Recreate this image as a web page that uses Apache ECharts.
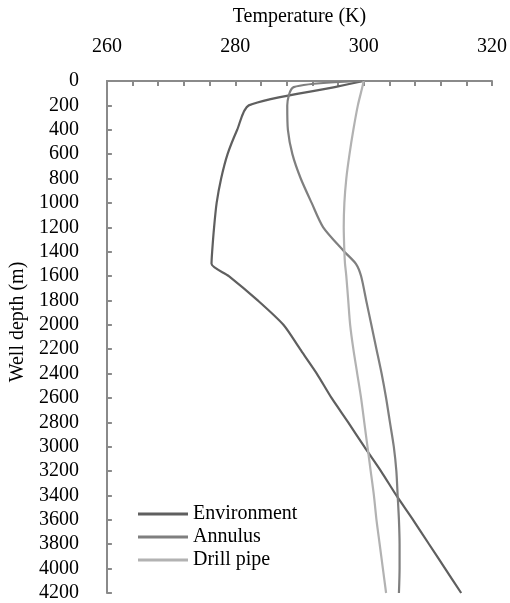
<!DOCTYPE html>
<html>
<head>
<meta charset="utf-8">
<script src="https://cdn.jsdelivr.net/npm/echarts@6/dist/echarts.min.js"></script>
<style>
  html, body { margin: 0; padding: 0; background: #fff; }
  #chart { width: 510px; height: 603px; }
</style>
</head>
<body>
<div id="chart"></div>
<script>
// well depth (m) and temperatures (K)
const depth = [0, 50, 200, 400, 600, 800, 1000, 1200, 1400, 1500, 1600, 1800, 2000,
  2200, 2400, 2600, 2800, 3000, 3200, 3400, 3600, 3800, 4000, 4200];
const environment = [300, 295.5, 282.1, 280.3, 278.8, 277.8, 277.1, 276.7, 276.4, 276.3, 279.0, 283.5, 287.5,
  290.1, 292.7, 295.0, 297.6, 300.1, 302.7, 305.1, 307.7, 310.2, 312.7, 315.2];
const annulus = [300, 289.1, 288.1, 288.2, 288.9, 290.2, 291.9, 293.7, 297.0, 298.8, 299.6, 300.4, 301.2,
  302.0, 302.8, 303.5, 304.1, 304.7, 305.1, 305.3, 305.5, 305.6, 305.6, 305.5];
const drillPipe = [300, 299.8, 299.1, 298.4, 297.8, 297.3, 297.0, 296.9, 297.0, 297.1, 297.3, 297.6, 297.9,
  298.4, 299.0, 299.6, 300.1, 300.6, 301.1, 301.6, 302.0, 302.5, 303.0, 303.5];
const names = ['Environment', 'Annulus', 'Drill pipe'];
const colors = ['#5f5f5f', '#7f7f7f', '#b2b2b2'];

const font = 'Liberation Serif';
let chart = echarts.init(document.getElementById('chart'), null, { renderer: 'canvas' });

function pairs(temps) {
  return temps.map((t, i) => [t, depth[i]]);
}

function lineSeries(i, temps) {
  return {
    name: names[i],
    type: 'line',
    data: pairs(temps),
    showSymbol: false,
    symbol: 'none',
    smooth: 0.25,
    lineStyle: { width: 2.2 }
  };
}

let option = {
  backgroundColor: '#fff',
  animation: false,
  color: colors,
  textStyle: { fontFamily: font, color: '#000' },
  grid: { left: 99, top: 81, right: 17, bottom: 10, containLabel: false },
  legend: {
    orient: 'vertical',
    left: 133,
    top: 499,
    itemWidth: 50,
    itemHeight: 3,
    itemGap: 3,
    icon: 'rect',
    textStyle: { fontFamily: font, fontSize: 20, color: '#000', lineHeight: 17 },
    data: names
  },
  xAxis: {
    type: 'value',
    position: 'top',
    min: 260,
    max: 320,
    interval: 20,
    name: 'Temperature (K)',
    nameLocation: 'middle',
    nameGap: 54,
    nameTextStyle: { fontFamily: font, fontSize: 20, color: '#000' },
    axisLine: { show: true, lineStyle: { color: '#8a8a8a', width: 2 } },
    axisTick: { show: true, inside: true, length: 5, lineStyle: { color: '#8a8a8a', width: 2 } },
    minorTick: { show: true, splitNumber: 5, length: 5, lineStyle: { color: '#8a8a8a', width: 2 } },
    axisLabel: { fontFamily: font, fontSize: 20, color: '#000', margin: 24 },
    splitLine: { show: false }
  },
  yAxis: {
    type: 'value',
    inverse: true,
    min: 0,
    max: 4200,
    interval: 200,
    name: 'Well depth (m)',
    nameLocation: 'middle',
    nameGap: 71,
    nameTextStyle: { fontFamily: font, fontSize: 20, color: '#000', padding: [0, 0, 0, 30] },
    axisLine: { show: true, lineStyle: { color: '#8a8a8a', width: 2 } },
    axisTick: { show: true, inside: true, length: 5, lineStyle: { color: '#8a8a8a', width: 2 } },
    axisLabel: { fontFamily: font, fontSize: 20, color: '#000', margin: 28, formatter: v => String(v) },
    splitLine: { show: false }
  },
  series: [
    lineSeries(0, environment),
    lineSeries(1, annulus),
    lineSeries(2, drillPipe)
  ]
};
chart.setOption(option);
</script>
</body>
</html>
